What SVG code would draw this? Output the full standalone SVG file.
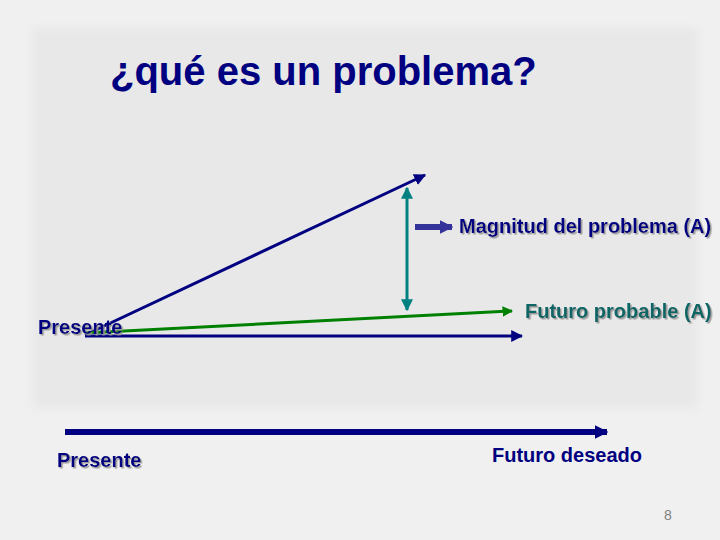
<svg xmlns="http://www.w3.org/2000/svg" width="720" height="540" viewBox="0 0 720 540">
<defs>
<filter id="sh" x="-5%" y="-20%" width="110%" height="150%"><feDropShadow dx="1.5" dy="1.5" stdDeviation="0.4" flood-color="#9a9a9a" flood-opacity="1"/></filter>
<filter id="soft" x="-5%" y="-5%" width="110%" height="110%"><feGaussianBlur stdDeviation="5"/></filter>
<marker id="hNavy" viewBox="0 0 10 10" refX="9" refY="5" markerWidth="4" markerHeight="4" orient="auto"><path d="M0,0 L10,5 L0,10 z" fill="#000080"/></marker>
<marker id="hTeal" viewBox="0 0 10 10" refX="9" refY="5" markerWidth="4" markerHeight="4" orient="auto-start-reverse"><path d="M0,0 L10,5 L0,10 z" fill="#008080"/></marker>
<marker id="hGreen" viewBox="0 0 10 10" refX="9" refY="5" markerWidth="3.5" markerHeight="3.5" orient="auto"><path d="M0,0 L10,5 L0,10 z" fill="#008000"/></marker>
<marker id="hBig" viewBox="0 0 10 10" refX="9" refY="5" markerWidth="2.3" markerHeight="2.3" orient="auto"><path d="M0,0 L10,5 L0,10 z" fill="#000080"/></marker>
<marker id="hBlock" viewBox="0 0 10 10" refX="9" refY="5" markerWidth="2.3" markerHeight="2.3" orient="auto"><path d="M0,0 L10,5 L0,10 z" fill="#333399"/></marker>
</defs>
<style>
.t{font-family:"Liberation Sans",Arial,sans-serif;font-weight:bold;font-size:20px;fill:#000080}
</style>
<rect width="720" height="540" fill="#f0f0f0"/>
<rect x="32" y="28" width="666" height="380" fill="#e8e8e8" filter="url(#soft)"/>
<text x="110" y="85" class="t" style="font-size:40px">¿qué es un problema?</text>
<g id="connectors" fill="none">
<line x1="85" y1="335" x2="425" y2="175" stroke="#000080" stroke-width="3" marker-end="url(#hNavy)"/>
<line x1="407" y1="188" x2="407" y2="310" stroke="#008080" stroke-width="3" marker-start="url(#hTeal)" marker-end="url(#hTeal)"/>
<line x1="415" y1="227" x2="452" y2="227" stroke="#333399" stroke-width="6" marker-end="url(#hBlock)"/>
<line x1="85" y1="333" x2="512" y2="311" stroke="#008000" stroke-width="3" marker-end="url(#hGreen)"/>
<line x1="85" y1="336" x2="522" y2="336" stroke="#000080" stroke-width="3" marker-end="url(#hNavy)"/>
<line x1="65" y1="432" x2="607" y2="432" stroke="#000080" stroke-width="6" marker-end="url(#hBig)"/>
</g>
<g id="magnitud"><text x="459" y="233" class="t" filter="url(#sh)">Magnitud del problema (A)</text></g>
<g id="futuro-probable"><text x="525" y="318" class="t" style="fill:#0b6666" filter="url(#sh)">Futuro probable (A)</text></g>
<g id="presente1"><text x="38" y="334" class="t" filter="url(#sh)">Presente</text></g>
<g id="presente2"><text x="57" y="467" class="t" filter="url(#sh)">Presente</text></g>
<g id="futuro-deseado"><text x="492" y="462" class="t">Futuro deseado</text></g>
<text x="664" y="520" style="font-family:'Liberation Sans',Arial,sans-serif;font-size:14px;fill:#808080">8</text>
</svg>
